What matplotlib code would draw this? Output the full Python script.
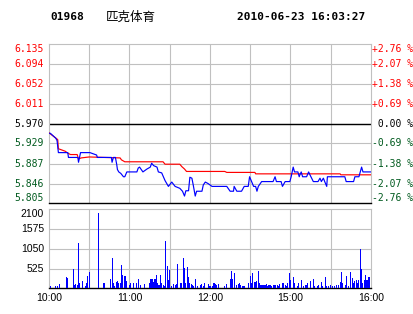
import matplotlib
matplotlib.use("Agg")
import matplotlib.pyplot as plt

# ---------------- data ----------------
stock_code = "01968"
stock_name = "匹克体育"
timestamp = "2010-06-23 16:03:27"
prev_close = 5.970

price_tick_labels = ["5.805", "5.846", "5.887", "5.929", "5.970",
                     "6.011", "6.052", "6.094", "6.135"]
pct_tick_labels = ["-2.76 %", "-2.07 %", "-1.38 %", "-0.69 %", " 0.00 %",
                   "+0.69 %", "+1.38 %", "+2.07 %", "+2.76 %"]
vol_tick_labels = ["525", "1050", "1575", "2100"]
time_tick_minutes = [0, 60, 120, 180, 240]
time_tick_labels = ["10:00", "11:00", "12:00", "15:00", "16:00"]

# price line (minutes after 10:00, trading-time axis)
price_min = [0, 1, 5, 6, 7, 14, 14.5, 21.5, 22, 23.5,
             30.5, 35.5, 36, 46.5, 47, 48, 49.5, 50.5, 51, 52,
             53.5, 55.5, 56.5, 58, 65.5, 66.5, 67.5, 70, 73, 75.5,
             76.5, 78, 80.5, 81.5, 84, 86.5, 89, 91.5, 94, 97.5,
             99.5, 101, 102, 104, 105, 106.5, 107.5, 109, 110, 114,
             115, 116.5, 118.5, 121.5, 132.5, 135, 137.5, 138, 140, 143.5,
             145.5, 148.5, 149.5, 151, 152.5, 154, 155, 156, 158.5, 167,
             168.5, 169.5, 173, 174, 176, 179.5, 180.5, 182, 183, 185.5,
             186.5, 187, 188, 189, 192, 193.5, 194.5, 197, 200.5, 202,
             203, 204.5, 205.5, 207, 207.5, 220.5, 221.5, 227, 228, 231,
             232, 233, 234, 240]
price_val = [5.95, 5.95, 5.94, 5.935, 5.91, 5.91, 5.90, 5.90, 5.89, 5.91,
             5.91, 5.905, 5.90, 5.90, 5.89, 5.90, 5.90, 5.885, 5.875, 5.87,
             5.867, 5.86, 5.86, 5.87, 5.87, 5.878, 5.88, 5.87, 5.876, 5.88,
             5.888, 5.883, 5.88, 5.87, 5.868, 5.852, 5.84, 5.849, 5.84, 5.836,
             5.83, 5.82, 5.831, 5.831, 5.859, 5.857, 5.843, 5.82, 5.83, 5.83,
             5.843, 5.849, 5.846, 5.84, 5.84, 5.83, 5.83, 5.84, 5.83, 5.83,
             5.84, 5.84, 5.86, 5.85, 5.84, 5.84, 5.83, 5.84, 5.85, 5.85,
             5.86, 5.85, 5.85, 5.84, 5.85, 5.85, 5.86, 5.88, 5.87, 5.87,
             5.86, 5.864, 5.87, 5.86, 5.86, 5.87, 5.864, 5.85, 5.85, 5.857,
             5.85, 5.857, 5.85, 5.84, 5.86, 5.86, 5.85, 5.85, 5.86, 5.86,
             5.87, 5.88, 5.87, 5.87]

# average price line
avg_min = [0, 6.5, 7, 12, 14, 16, 21, 22, 24, 30,
           53, 54, 56.5, 85, 86.5, 97.5, 99, 101, 102.5, 131,
           132.5, 153.5, 154, 217, 217.5, 240]
avg_val = [5.951, 5.937, 5.918, 5.913, 5.909, 5.906, 5.906, 5.897, 5.899, 5.901,
           5.899, 5.895, 5.891, 5.891, 5.886, 5.886, 5.881, 5.876, 5.871, 5.871,
           5.869, 5.869, 5.866, 5.866, 5.864, 5.864]

# volume per minute
vol_min = [1, 5, 6, 8, 13, 14, 18, 19, 20, 21,
           22, 23, 25, 27, 28, 29, 30, 37, 41, 46,
           47, 48, 49, 50, 51, 52, 53, 54, 55, 56,
           57, 58, 60, 61, 63, 65, 67, 68, 71, 75,
           76, 77, 78, 79, 80, 81, 82, 83, 84, 85,
           86, 87, 88, 89, 90, 91, 93, 94, 95, 96,
           98, 99, 100, 101, 102, 103, 104, 105, 106, 107,
           108, 109, 111, 113, 114, 115, 116, 119, 120, 122,
           123, 124, 125, 126, 131, 132, 135, 136, 137, 138,
           140, 141, 142, 143, 144, 145, 146, 149, 150, 151,
           152, 153, 154, 155, 156, 157, 158, 159, 160, 161,
           162, 163, 164, 165, 166, 167, 168, 169, 170, 171,
           172, 174, 175, 176, 177, 178, 179, 180, 182, 183,
           185, 186, 188, 190, 191, 192, 193, 195, 197, 198,
           200, 201, 203, 204, 206, 207, 208, 210, 211, 213,
           214, 216, 217, 218, 219, 221, 222, 223, 225, 226,
           227, 228, 229, 230, 231, 232, 233, 234, 235, 236,
           237, 238, 239]
vol_val = [50, 50, 50, 125, 290, 275, 505, 80, 105, 80,
           1195, 140, 185, 55, 140, 330, 425, 1995, 135, 240,
           795, 135, 55, 170, 205, 135, 135, 610, 345, 335,
           335, 205, 80, 135, 135, 135, 240, 80, 105, 135,
           240, 240, 170, 240, 345, 135, 80, 345, 135, 80,
           55, 1260, 585, 215, 485, 55, 105, 80, 105, 655,
           135, 135, 795, 530, 135, 560, 290, 135, 105, 80,
           55, 240, 55, 80, 105, 55, 135, 105, 55, 55,
           135, 105, 80, 105, 55, 105, 240, 455, 240, 400,
           80, 105, 135, 80, 55, 55, 55, 135, 320, 135,
           400, 160, 160, 185, 455, 135, 80, 80, 80, 80,
           105, 55, 80, 80, 55, 80, 80, 80, 80, 55,
           105, 135, 135, 80, 55, 135, 415, 220, 295, 150,
           60, 135, 220, 60, 90, 90, 150, 185, 240, 60,
           60, 95, 170, 60, 295, 60, 60, 95, 60, 60,
           95, 95, 170, 435, 135, 80, 330, 60, 435, 275,
           135, 185, 220, 150, 220, 1045, 505, 150, 220, 365,
           220, 295, 295]

# ---------------- styling ----------------
RED = "#ff0000"
GREEN = "#005a1e"
BLUE = "#0000ff"
GRID = "#c0c0c0"
W, H = 414, 314
MONO = "DejaVu Sans Mono"
SANS = "Liberation Sans"

fig = plt.figure(figsize=(W / 100, H / 100), dpi=100)
fig.patch.set_facecolor("white")

left, right = 49, 371
p_top, p_bot = 44, 203.3
v_top, v_bot = 209.3, 288.3

ax = fig.add_axes([left / W, (H - p_bot) / H, (right - left) / W, (p_bot - p_top) / H])
axv = fig.add_axes([left / W, (H - v_bot) / H, (right - left) / W, (v_bot - v_top) / H])

price_ticks = [float(s) for s in price_tick_labels]
vol_ticks = [float(s) for s in vol_tick_labels]
grid_minutes = list(range(30, 240, 30))


def color_for(v):
    if abs(v - prev_close) < 1e-9:
        return "black"
    return RED if v > prev_close else GREEN


def valign(i, n):
    if i == 0:
        return "bottom"
    if i == n - 1:
        return "top"
    return "center"


def style_frame(a):
    for s in ("left", "top", "right"):
        a.spines[s].set_color(GRID)
        a.spines[s].set_linewidth(0.8)
    a.spines["bottom"].set_color("black")
    a.spines["bottom"].set_linewidth(1.0)


# ---- price panel ----
ax.set_xlim(0, 240)
ax.set_ylim(price_ticks[0], price_ticks[-1])
ax.set_xticks([])
ax.set_yticks([])
for m in grid_minutes:
    ax.axvline(m, color=GRID, lw=0.8, zorder=1)
for v in price_ticks[1:-1]:
    ax.axhline(v, color=GRID, lw=0.8, zorder=1)
ax.axhline(prev_close, color="black", lw=1.0, zorder=2)
style_frame(ax)

n = len(price_ticks)
for i, (v, lab, pl) in enumerate(zip(price_ticks, price_tick_labels, pct_tick_labels)):
    va = valign(i, n)
    ax.annotate(lab, xy=(0, v), xycoords=("axes fraction", "data"),
                xytext=(-3.5, 0), textcoords="offset points",
                ha="right", va=va, family=MONO, fontsize=7, color=color_for(v),
                annotation_clip=False)
    ax.annotate(pl, xy=(1, v), xycoords=("axes fraction", "data"),
                xytext=(0.5, 0), textcoords="offset points",
                ha="left", va=va, family=MONO, fontsize=7, color=color_for(v),
                annotation_clip=False)

ax.plot(avg_min, avg_val, color=RED, lw=0.85, zorder=3)
ax.plot(price_min, price_val, color=BLUE, lw=0.85, zorder=4)

# ---- volume panel ----
axv.set_xlim(0, 240)
axv.set_ylim(0, 2100)
for m in grid_minutes:
    axv.axvline(m, color=GRID, lw=0.8, zorder=1)
for v in vol_ticks[:-1]:
    axv.axhline(v, color=GRID, lw=0.8, zorder=1)
axv.bar(vol_min, vol_val, width=0.8, color=BLUE, align="center",
        antialiased=False, zorder=3)
style_frame(axv)
axv.set_yticks([])
for i, (v, lab) in enumerate(zip(vol_ticks, vol_tick_labels)):
    va = "top" if i == len(vol_ticks) - 1 else "center"
    axv.annotate(lab, xy=(0, v), xycoords=("axes fraction", "data"),
                 xytext=(-3.5, 0), textcoords="offset points",
                 ha="right", va=va, family=SANS, fontsize=7.5, color="black",
                 annotation_clip=False)
axv.set_xticks(time_tick_minutes)
axv.set_xticklabels(time_tick_labels, family=SANS, fontsize=7.5)
axv.tick_params(axis="x", length=0, pad=3.5)

# ---- header ----
hy = 1 - 17 / H
fig.text(50 / W, hy, stock_code, family=MONO, fontweight="bold",
         fontsize=8, ha="left", va="center")
fig.text(106 / W, hy, stock_name, family=["Noto Sans CJK SC", "DejaVu Sans"],
         fontsize=9, ha="left", va="center")
fig.text(237 / W, hy, timestamp, family=MONO, fontweight="bold",
         fontsize=8, ha="left", va="center")

fig.savefig("out.png", dpi=100, facecolor="white")
